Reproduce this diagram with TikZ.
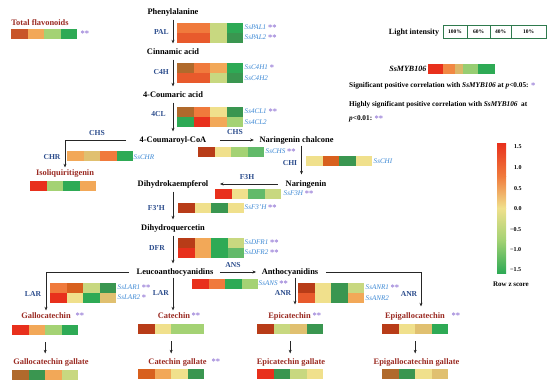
\documentclass[tikz,border=0pt]{standalone}
\usepackage{fontspec}
\setmainfont{Liberation Serif}
\usetikzlibrary{arrows.meta}
\definecolor{hred}{HTML}{E8301C}
\definecolor{brn}{HTML}{B83C18}
\definecolor{org}{HTML}{F07A3C}
\definecolor{ore}{HTML}{E85A2C}
\definecolor{dor}{HTML}{D8601E}
\definecolor{lor}{HTML}{F2A858}
\definecolor{yel}{HTML}{F0E08C}
\definecolor{kha}{HTML}{E0C070}
\definecolor{ylg}{HTML}{C8D880}
\definecolor{lgr}{HTML}{A4D274}
\definecolor{grn}{HTML}{2EAA55}
\definecolor{dgr}{HTML}{3A9650}
\definecolor{mgr}{HTML}{62BA6A}
\definecolor{olv}{HTML}{B06A2C}
\definecolor{cfl}{HTML}{C85528}
\definecolor{starp}{HTML}{9A80D8}
\definecolor{geneblue}{HTML}{3C88D4}
\definecolor{enzblue}{HTML}{2B4C8C}
\definecolor{dkred}{HTML}{9A2A22}
\definecolor{tgreen}{HTML}{2F7A4E}
\newcommand\sta[1]{\textcolor{starp}{\upshape\bfseries\fontsize{8.5}{8.5}\selectfont\raisebox{-1.2pt}{#1}}}
% name, x, y (top), rows, list of rows
\newcommand\heat[5]{%
  \node[inner sep=0pt, anchor=north west, minimum width=66, minimum height=#4*10] (#1) at (#2,#3) {};
  \foreach \row [count=\r from 0] in {#5} {
    \foreach \c [count=\k from 0] in \row {
      \fill[fill=\c] (#2+\k*16.5, #3+\r*10) rectangle ++(16.5,10);
    }
  }
}
\begin{document}
\begin{tikzpicture}[x=1pt,y=-1pt,
  main/.style={font=\bfseries\fontsize{8.4}{9}\selectfont, inner sep=1.5pt, text height=6pt, text depth=1.8pt},
  prod/.style={main, text=dkred},
  enz/.style={font=\bfseries\fontsize{7.6}{8}\selectfont, text=enzblue, inner sep=1pt},
  gene/.style={font=\itshape\fontsize{7.1}{8}\selectfont, text=geneblue, inner sep=0.5pt, anchor=west},
  note/.style={font=\bfseries\fontsize{7.3}{8}\selectfont, inner sep=0pt, anchor=west},
  arr/.style={-{Stealth[length=3.6pt,width=3pt]}, line width=0.5pt, black!85},
  varr/.style={arr, shorten <=2pt, shorten >=3pt},
  tcell/.style={draw=tgreen, line width=0.7pt, inner sep=0pt, minimum height=13, font=\bfseries\fontsize{5.5}{6}\selectfont},
  sc/.style={font=\bfseries\fontsize{6}{7}\selectfont, inner sep=0pt, anchor=west}
]
\useasboundingbox (0,0) rectangle (550,388);

% ---- Total flavonoids
\node[prod] (tf) at (40,23) {Total flavonoids};
\heat{tfb}{11}{29}{1}{{cfl,lor,lgr,grn}}
\node[gene] (tfs) at (80,34) {\sta{**}};

% ---- main column
\node[main] (phe) at (173,12) {Phenylalanine};
\node[main] (cin) at (173,52) {Cinnamic acid};
\node[main] (cou) at (173,95) {4-Coumaric acid};
\node[main] (coa) at (173,140) {4-Coumaroyl-CoA};
\node[main] (nc) at (296.5,140) {Naringenin chalcone};
\node[main] (nar) at (306,184) {Naringenin};
\node[main] (dhk) at (173,184) {Dihydrokaempferol};
\node[main] (dhq) at (173,228) {Dihydroquercetin};
\node[main] (leu) at (175,272) {Leucoanthocyanidins};
\node[main] (anth) at (290,272) {Anthocyanidins};
\node[prod] (iso) at (65,173) {Isoliquiritigenin};

\draw[varr] (phe) -- (cin);
\draw[varr] (cin) -- (cou);
\draw[varr] (cou) -- (coa);
\draw[varr] (dhk) -- (dhq);
\draw[varr] (dhq.south) -- (dhq.south |- leu.north);

\node[enz, anchor=east] (pal) at (170,32) {PAL};
\node[enz, anchor=east] (c4h) at (170,72) {C4H};
\node[enz, anchor=east] (fcl) at (167,114) {4CL};
\node[enz, anchor=east] (f3ph) at (166,208) {F3'H};
\node[enz, anchor=east] (dfr) at (166,248) {DFR};

\heat{palb}{177}{23}{2}{{org,org,ylg,grn},{ore,ore,ylg,dgr}}
\node[gene] (g1) at (244,28) {SsPAL1 \sta{**}};
\node[gene] (g2) at (244,38) {SsPAL2 \sta{**}};
\heat{c4hb}{177}{63}{2}{{olv,org,lor,grn},{ore,ore,ylg,dgr}}
\node[gene] (g3) at (244,68) {SsC4H1 \sta{*}};
\node[gene] (g4) at (244,78) {SsC4H2};
\heat{fclb}{177}{107}{2}{{olv,org,yel,dgr},{grn,hred,lor,lgr}}
\node[gene] (g5) at (244,112) {Ss4CL1 \sta{**}};
\node[gene] (g6) at (244,122) {Ss4CL2};

% CHS right
\draw[arr, shorten <=12pt, shorten >=4pt] (coa.east) -- (nc.west);
\node[enz] (chs) at (235,132) {CHS};
\heat{chsb}{198}{147}{1}{{brn,yel,lgr,mgr}}
\node[gene] (g7) at (265,152) {SsCHS \sta{**}};

% CHS / CHR left
\draw[arr, shorten <=12pt] (coa.west) -| (iso.north);
\node[enz] (chs2) at (97,133) {CHS};
\node[enz] (chr) at (52,157) {CHR};
\heat{chrb}{67}{151}{1}{{lor,kha,org,grn}}
\node[gene] (g8) at (133,157) {SsCHR};
\heat{isob}{30}{181}{1}{{hred,lgr,grn,lor}}

% CHI
\draw[arr, shorten >=4pt] ([xshift=5pt]nc.south) -- ([xshift=5pt]nc.south |- nar.north);
\node[enz] (chi) at (290,163) {CHI};
\heat{chib}{306}{156}{1}{{yel,dor,dgr,yel}}
\node[gene] (g9) at (373,161) {SsCHI};

% F3H
\draw[arr, shorten <=6pt, shorten >=10pt] (nar.west) -- (dhk.east);
\node[enz] (f3h) at (247,177) {F3H};
\heat{f3hb}{215}{189}{1}{{hred,yel,mgr,ylg}}
\node[gene] (g10) at (283,194) {SsF3H \sta{**}};

\heat{f3phb}{178}{203}{1}{{brn,yel,dgr,yel}}
\node[gene] (g11) at (244,208) {SsF3'H \sta{**}};
\heat{dfrb}{178}{238}{2}{{brn,lor,grn,ylg},{hred,lor,grn,mgr}}
\node[gene] (g12) at (244,243) {SsDFR1 \sta{**}};
\node[gene] (g13) at (244,253) {SsDFR2 \sta{**}};

% ANS
\draw[arr, shorten <=5pt, shorten >=4pt] (leu.east) -- (anth.west);
\node[enz] (ans) at (233,265) {ANS};
\heat{ansb}{192}{279}{1}{{hred,org,grn,lgr}}
\node[gene] (g14) at (258,284) {SsANS \sta{**}};

% products
\node[prod] (gc) at (46,316) {Gallocatechin};
\node[gene] (gcs) at (75,316) {\sta{**}};
\node[prod] (gcg) at (51,362) {Gallocatechin gallate};
\node[prod] (cat) at (174,316) {Catechin};
\node[gene] (cats) at (191,316) {\sta{**}};
\node[prod] (catg) at (177.5,362) {Catechin gallate};
\node[gene] (catgs) at (211,362) {\sta{**}};
\node[prod] (epi) at (289.5,316) {Epicatechin};
\node[gene] (epis) at (312,316) {\sta{**}};
\node[prod] (epig) at (291,362) {Epicatechin gallate};
\node[prod] (egc) at (415,316) {Epigallocatechin};
\node[gene] (egcs) at (451,316) {\sta{**}};
\node[prod] (egcg) at (416.5,362) {Epigallocatechin gallate};

% LAR
\draw[arr, shorten <=6pt] (leu.west) -| (gc.north);
\node[enz] (lar) at (33,294) {LAR};
\heat{larb}{50}{283}{2}{{org,dor,ylg,dgr},{hred,yel,grn,kha}}
\node[gene] (g15) at (117,288) {SsLAR1 \sta{**}};
\node[gene] (g16) at (117,298) {SsLAR2 \sta{*}};
\draw[arr] ([xshift=-2pt]leu.south) -- ([xshift=-2pt]leu.south |- cat.north);
\node[enz, anchor=east] (lar2) at (170,293) {LAR};

% ANR
\draw[arr, shorten >=6pt] ([xshift=5pt]anth.south) -- ([xshift=5pt]anth.south |- epi.north);
\node[enz] (anr) at (283,293) {ANR};
\heat{anrb}{298}{283}{2}{{brn,yel,dgr,ylg},{ore,yel,dgr,lor}}
\node[gene] (g17) at (365,288) {SsANR1 \sta{**}};
\node[gene] (g18) at (365,298) {SsANR2};
\draw[arr, shorten <=6pt, shorten >=4pt] (anth.east) -| ([xshift=6pt]egc.north);
\node[enz] (anr2) at (409,294) {ANR};

% product heatmaps
\heat{gcb}{12}{325}{1}{{hred,lor,lgr,grn}}
\heat{gcgb}{12}{370}{1}{{olv,dgr,lor,ylg}}
\heat{catb}{138}{324}{1}{{brn,yel,lgr,lgr}}
\heat{catgb}{138}{369}{1}{{dor,lor,yel,dgr}}
\heat{epib}{257}{324}{1}{{brn,ylg,kha,dgr}}
\heat{epigb}{257}{369}{1}{{hred,dgr,ylg,yel}}
\heat{egcb}{382}{324}{1}{{brn,yel,kha,grn}}
\heat{egcgb}{382}{369}{1}{{olv,dgr,yel,kha}}
\draw[arr, shorten <=7pt, shorten >=3pt] (gcb.south) -- (gcb.south |- gcg.north);
\draw[arr, shorten <=7pt, shorten >=3pt] (catb.south) -- (catb.south |- catg.north);
\draw[arr, shorten <=7pt, shorten >=3pt] (epib.south) -- (epib.south |- epig.north);
\draw[arr, shorten <=7pt, shorten >=3pt] (egcb.south) -- (egcb.south |- egcg.north);

% ---- legend
\node[main, font=\bfseries\fontsize{8}{9}\selectfont] (li) at (414,32) {Light intensity};
\node[tcell, minimum width=24] (l1) at (455,32) {100\%};
\node[tcell, minimum width=23] (l2) at (478.5,32) {60\%};
\node[tcell, minimum width=21] (l3) at (500.5,32) {40\%};
\node[tcell, minimum width=35] (l4) at (528.5,32) {10\%};

\node[font=\bfseries\itshape\fontsize{8}{9}\selectfont, anchor=east, inner sep=0.5pt] (myb) at (427,69) {SsMYB106};
\node[inner sep=0pt, anchor=north west, minimum width=67, minimum height=10] (mybb) at (428,64) {};
\fill[hred] (428,64) rectangle (443,74);
\fill[org!70!lor] (443,64) rectangle (455,74);
\fill[kha!90!olv] (455,64) rectangle (463,74);
\fill[lgr!80!mgr] (463,64) rectangle (478,74);
\fill[grn] (478,64) rectangle (495,74);

\node[note] (n1) at (349,86) {Significant positive correlation with \textit{SsMYB106} at \textit{p}<0.05: \sta{*}};
\node[note] (n2) at (349,105) {Highly significant positive correlation with \textit{SsMYB106}\ \ at};
\node[note] (n3) at (349,119) {\textit{p}<0.01: \sta{**}};

% colour scale
\shade[top color=hred, bottom color=org] (497,143) rectangle (506,176);
\shade[top color=org, bottom color=yel] (497,176) rectangle (506,208);
\shade[top color=yel, bottom color=lgr] (497,208) rectangle (506,240);
\shade[top color=lgr, bottom color=grn] (497,240) rectangle (506,273);
\node[sc] (s1) at (514,147) {1.5};
\node[sc] (s2) at (514,168) {1.0};
\node[sc] (s3) at (514,189) {0.5};
\node[sc] (s4) at (514,209) {0.0};
\node[sc] (s5) at (510,230) {−0.5};
\node[sc] (s6) at (510,250) {−1.0};
\node[sc] (s7) at (510,270) {−1.5};
\node[font=\bfseries\fontsize{7}{8}\selectfont, inner sep=0pt] (rz) at (511,284) {Row z score};
\end{tikzpicture}
\end{document}
